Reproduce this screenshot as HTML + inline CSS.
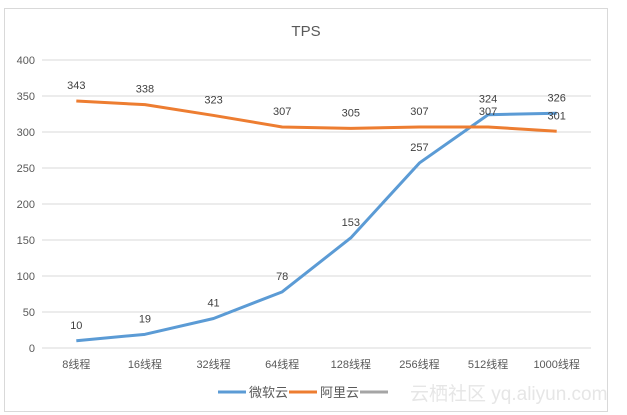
<!DOCTYPE html>
<html><head><meta charset="utf-8">
<style>
body{margin:0;background:#fff;width:627px;height:415px;overflow:hidden;font-family:"Liberation Sans","Noto Sans CJK SC",sans-serif;}
</style></head><body>
<svg id="chart" width="627" height="415" style="position:absolute;left:0;top:0">
<rect x="4.5" y="8.5" width="603" height="403" fill="#fff" stroke="#d9d9d9"/>
<text x="306" y="36" text-anchor="middle" font-size="15" fill="#595959">TPS</text>
<g id="grid"></g><g id="series"></g>
<g>
<line x1="218" y1="392" x2="246" y2="392" stroke="#5b9bd5" stroke-width="3"/>
<text x="249" y="397" font-size="13" fill="#595959">微软云</text>
<line x1="289" y1="392" x2="317" y2="392" stroke="#ed7d31" stroke-width="3"/>
<text x="320" y="397" font-size="13" fill="#595959">阿里云</text>
<line x1="360" y1="392" x2="388" y2="392" stroke="#a5a5a5" stroke-width="3"/>
</g>
<text x="410" y="400" font-size="19" fill="#e6e6e6">云栖社区 yq.aliyun.com</text>
</svg>
<script>
const categories=["8线程","16线程","32线程","64线程","128线程","256线程","512线程","1000线程"];
const azure=[10,19,41,78,153,257,324,326];
const aliyun=[343,338,323,307,305,307,307,301];
const yTicks=[0,50,100,150,200,250,300,350,400];
const NS="http://www.w3.org/2000/svg";
const L=42,R=591,T=60,B=348,yMax=400;
const bw=(R-L)/categories.length;
const xs=i=>L+bw*(i+0.5);
const ys=v=>B-(B-T)*v/yMax;
const grid=document.getElementById('grid'),ser=document.getElementById('series');
function mk(tag,attrs,parent){const e=document.createElementNS(NS,tag);for(const k in attrs)e.setAttribute(k,attrs[k]);parent.appendChild(e);return e;}
yTicks.forEach(t=>{
 const l=mk('line',{x1:L,x2:R,y1:ys(t),y2:ys(t),stroke:'#d9d9d9','stroke-width':1},grid);
 
 
 const tx=mk('text',{x:35,y:ys(t)+4,'text-anchor':'end','font-size':11,fill:'#595959'},grid);
 tx.textContent=t;
 
 
});
categories.forEach((c,i)=>{
 const tx=mk('text',{x:xs(i),y:368,'text-anchor':'middle','font-size':11,fill:'#595959'},grid);
 tx.textContent=c;
 
 
});
function drawSeries(vals,color,name){
 const p=mk('polyline',{points:vals.map((v,i)=>xs(i)+','+ys(v)).join(' '),fill:'none',stroke:color,'stroke-width':3,'stroke-linejoin':'round'},ser);
 
 
 vals.forEach((v,i)=>{
  const t=mk('text',{x:xs(i),y:ys(v)-12,'text-anchor':'middle','font-size':11,fill:'#404040'},ser);
  t.textContent=v;
  
  
 });
}
drawSeries(azure,'#5b9bd5','azure');
drawSeries(aliyun,'#ed7d31','aliyun');
</script>
</body></html>
